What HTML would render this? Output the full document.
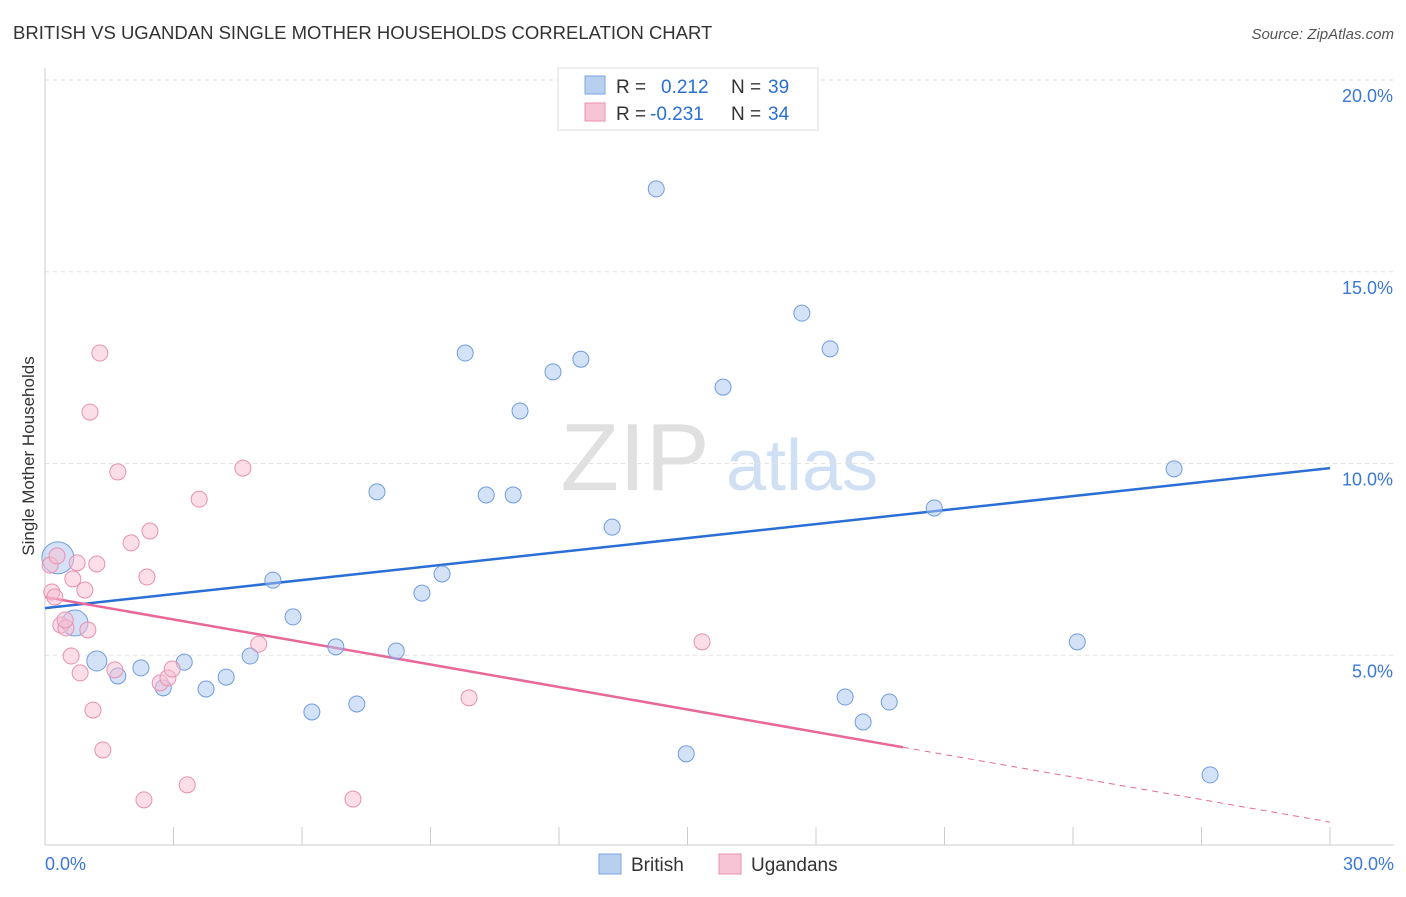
<!DOCTYPE html>
<html><head><meta charset="utf-8"><style>
body{margin:0;background:#fff;font-family:"Liberation Sans",sans-serif}
svg text{font-family:"Liberation Sans",sans-serif}
</style></head><body>
<svg id="chart" width="1406" height="892" xmlns="http://www.w3.org/2000/svg">
<text x="13" y="39" font-size="18.5" fill="#333">BRITISH VS UGANDAN SINGLE MOTHER HOUSEHOLDS CORRELATION CHART</text>
<text x="1394" y="39" font-size="15" fill="#555" text-anchor="end" font-style="italic">Source: ZipAtlas.com</text>
<text x="635" y="490" font-size="96" fill="#e0e0e0" font-family="Liberation Serif" text-anchor="middle">ZIP</text>
<text x="802" y="490" font-size="72" fill="#cfdff4" text-anchor="middle">atlas</text>
<g id="grid"></g><g id="axes"></g><g id="lines"></g><g id="pts"></g>
<text transform="translate(34,456) rotate(-90)" font-size="17" fill="#333" text-anchor="middle">Single Mother Households</text>
<g>
<rect x="558" y="68" width="260" height="62" fill="#fff" stroke="#ddd"/>
<rect x="585" y="76" width="20" height="18" fill="#b8d0f0" stroke="#7ba3e0"/>
<rect x="585" y="103" width="20" height="18" fill="#f7c4d6" stroke="#e890b0"/>
<text x="616" y="93" font-size="19" fill="#333">R =</text><text x="661" y="93" font-size="19" fill="#2a6fd6">0.212</text>
<text x="731" y="93" font-size="19" fill="#333">N =</text><text x="768" y="93" font-size="19" fill="#2a6fd6">39</text>
<text x="616" y="120" font-size="19" fill="#333">R =</text><text x="650" y="120" font-size="19" fill="#2a6fd6">-0.231</text>
<text x="731" y="120" font-size="19" fill="#333">N =</text><text x="768" y="120" font-size="19" fill="#2a6fd6">34</text>
</g>
<g>
<rect x="599" y="854" width="22" height="20" fill="#b8d0f0" stroke="#7ba3e0"/>
<text x="631" y="871" font-size="19" fill="#333">British</text>
<rect x="719" y="854" width="22" height="20" fill="#f7c4d6" stroke="#e890b0"/>
<text x="751" y="871" font-size="19" fill="#333">Ugandans</text>
</g>
</svg>
<script>
const britishX=[0.3,0.7,1.21,1.7,2.24,2.76,3.25,3.76,4.23,4.79,5.32,5.79,6.23,6.79,7.28,7.75,8.2,8.8,9.27,9.81,10.3,10.93,11.09,11.86,12.51,13.24,14.27,14.97,15.83,17.67,18.33,18.68,19.1,19.71,20.76,24.1,26.36,27.2];
const britishY=[7.54,5.84,4.85,4.46,4.67,4.15,4.82,4.12,4.43,4.98,6.96,6.0,3.52,5.22,3.73,9.26,5.11,6.62,7.12,12.88,9.18,9.18,11.37,12.39,12.72,8.34,17.16,2.43,11.99,13.92,12.99,3.91,3.26,3.78,8.84,5.35,9.86,1.88];
const britishR=[16,13,10,8,8,8,8,8,8,8,8,8,8,8,8,8,8,8,8,8,8,8,8,8,8,8,8,8,8,8,8,8,8,8,8,8,8,8];
const ugandaX=[0.12,0.16,0.23,0.28,0.37,0.49,0.47,0.61,0.65,0.75,0.82,0.93,1.0,1.05,1.12,1.21,1.28,1.35,1.63,1.7,2.01,2.31,2.38,2.45,2.69,2.87,2.97,3.32,3.6,4.62,4.99,7.19,9.9,15.34];
const ugandaY=[7.35,6.65,6.52,7.59,5.79,5.71,5.92,4.98,6.99,7.41,4.54,6.7,5.66,11.34,3.57,7.38,12.88,2.53,4.62,9.78,7.93,1.23,7.04,8.24,4.28,4.41,4.64,1.62,9.07,9.88,5.29,1.25,3.89,5.35];
const xTicks=[0,3,6,9,12,15,18,21,24,27,30];
const yTicks=[5,10,15,20];
const yTickLabels=["5.0%","10.0%","15.0%","20.0%"];
const britishTrend=[6.23,9.88];
const ugandaTrend=[6.52,0.65];
const ugandaSolidEnd=20.03;
const X=v=>45+v/30*1285, Y=v=>847-v*38.35;
const NS="http://www.w3.org/2000/svg";
function mk(par,tag,attrs){const e=document.createElementNS(NS,tag);for(const k in attrs)e.setAttribute(k,attrs[k]);document.getElementById(par).appendChild(e);return e;}
yTicks.forEach((t,i)=>{
 const l=mk('grid','line',{x1:45,x2:1394,y1:Y(t),y2:Y(t),stroke:'#e2e2e2','stroke-dasharray':'4,4'});
 
 
 const tx=mk('grid','text',{x:1393,y:Y(t)+22,'font-size':18,fill:'#3a78d8','text-anchor':'end'});
 tx.textContent=yTickLabels[i];
 
 
});
const ax=mk('axes','line',{x1:45,x2:45,y1:68,y2:845,stroke:'#ccc'});


const bx=mk('axes','line',{x1:45,x2:1394,y1:845,y2:845,stroke:'#ccc'});


xTicks.forEach(t=>{
 const l=mk('axes','line',{x1:X(t),x2:X(t),y1:827,y2:845,stroke:'#ccc'});
 
 
});
const xl0=mk('axes','text',{x:45,y:870,'font-size':18,fill:'#3a78d8'});xl0.textContent='0.0%';


const xl1=mk('axes','text',{x:1394,y:870,'font-size':18,fill:'#3a78d8','text-anchor':'end'});xl1.textContent='30.0%';


britishX.forEach((x,i)=>{
 const c=mk('pts','circle',{cx:X(x),cy:Y(britishY[i]),r:britishR[i],fill:'rgba(170,198,240,0.5)',stroke:'#6f9ce0','stroke-width':1});
 
 
});
ugandaX.forEach((x,i)=>{
 const c=mk('pts','circle',{cx:X(x),cy:Y(ugandaY[i]),r:8,fill:'rgba(247,190,210,0.5)',stroke:'#e890b0','stroke-width':1});
 
 
});
const bl=mk('lines','line',{x1:X(0),y1:Y(britishTrend[0]),x2:X(30),y2:Y(britishTrend[1]),stroke:'#2a6fd6','stroke-width':2.5});


const uAt=v=>ugandaTrend[0]+(ugandaTrend[1]-ugandaTrend[0])*v/30;
const ul=mk('lines','line',{x1:X(0),y1:Y(uAt(0)),x2:X(ugandaSolidEnd),y2:Y(uAt(ugandaSolidEnd)),stroke:'#e8689a','stroke-width':2.5});


const ud=mk('lines','line',{x1:X(ugandaSolidEnd),y1:Y(uAt(ugandaSolidEnd)),x2:X(30),y2:Y(uAt(30)),stroke:'#e8689a','stroke-width':1,'stroke-dasharray':'6,5'});


</script>
</body></html>
